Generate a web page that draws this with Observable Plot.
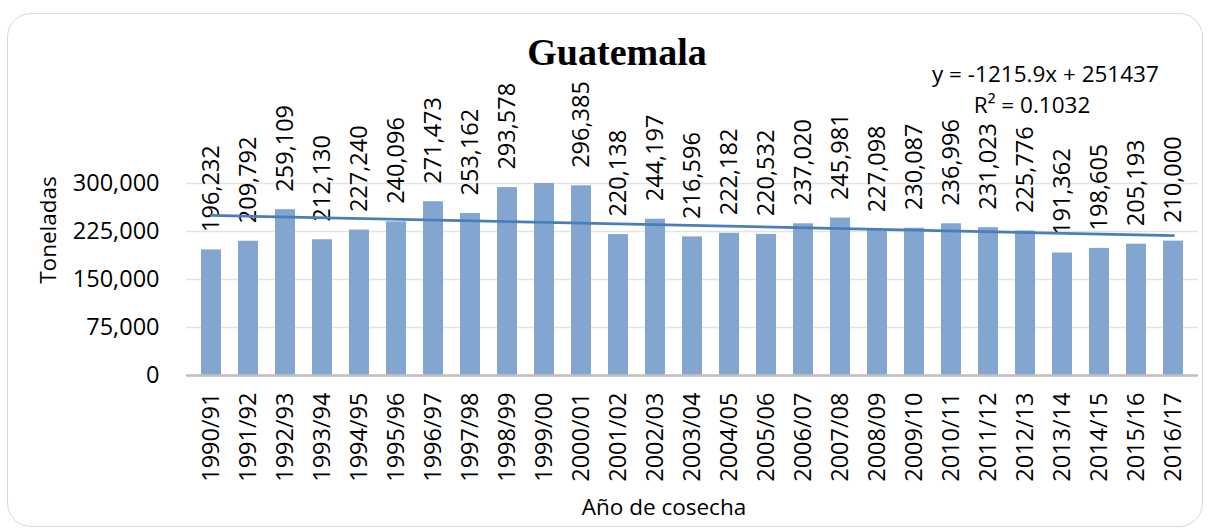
<!DOCTYPE html>
<html>
<head>
<meta charset="utf-8">
<script src="https://cdn.jsdelivr.net/npm/d3@7"></script>
<script src="https://cdn.jsdelivr.net/npm/@observablehq/plot@0.6"></script>
<style>
  html, body { margin: 0; padding: 0; background: #fff; }
  #wrap { position: relative; width: 1210px; height: 531px; overflow: hidden; font-family: "Open Sans", sans-serif; }
  #frame { position: absolute; left: 7px; top: 13px; width: 1196px; height: 514px; border: 1.5px solid #d9d9d9; border-radius: 24px; box-sizing: border-box; }
  #chart { position: absolute; left: 0; top: 0; }
  .t { position: absolute; white-space: nowrap; color: #000; }
  #title { left: 0; width: 1234px; top: 33px; text-align: center; font-family: "Liberation Serif", serif; font-weight: bold; font-size: 38px; line-height: 38px; }
  #eq { left: 932px; width: 200px; top: 58px; text-align: center; font-size: 22.5px; line-height: 31px; }
  #ylab { left: 48px; top: 230px; font-size: 22.5px; line-height: 22px; transform: translate(-50%, -50%) rotate(-90deg); }
  #xlab { left: 664px; top: 507px; font-size: 22.5px; line-height: 22px; transform: translate(-50%, -50%); }
</style>
</head>
<body>
<div id="wrap">
  <div id="frame"></div>
  <div id="chart"></div>
  <div class="t" id="title">Guatemala</div>
  <div class="t" id="eq">y = -1215.9x + 251437<br>R² = 0.1032</div>
  <div class="t" id="ylab">Toneladas</div>
  <div class="t" id="xlab">Año de cosecha</div>
</div>
<script>
const seasons = ["1990/91","1991/92","1992/93","1993/94","1994/95","1995/96","1996/97","1997/98","1998/99","1999/00","2000/01","2001/02","2002/03","2003/04","2004/05","2005/06","2006/07","2007/08","2008/09","2009/10","2010/11","2011/12","2012/13","2013/14","2014/15","2015/16","2016/17"];
const toneladas = [196232,209792,259109,212130,227240,240096,271473,253162,293578,307203,296385,220138,244197,216596,222182,220532,237020,245981,227098,230087,236996,231023,225776,191362,198605,205193,210000];
const yTicks = [0,75000,150000,225000,300000];
const yMax = 300000;
const trendSlope = -1215.9;
const trendIntercept = 251437;

const fmt = d3.format(",");
const data = seasons.map((s, i) => ({season: s, value: toneladas[i], idx: i + 1}));
const labeled = data.filter(d => d.value <= yMax);
const trendEnds = [data[0], data[data.length - 1]].map(d => ({season: d.season, value: trendSlope * d.idx + trendIntercept}));

const chart = Plot.plot({
  width: 1210,
  height: 531,
  marginLeft: 186,
  marginRight: 12,
  marginTop: 183,
  marginBottom: 156,
  style: {fontFamily: "'Open Sans', sans-serif", fontSize: "23.5px", color: "#000", background: "transparent", overflow: "visible"},
  x: {type: "band", domain: seasons, paddingInner: 0.45, paddingOuter: 0.225, label: null},
  y: {domain: [0, yMax], label: null},
  marks: [
    Plot.gridY(yTicks, {stroke: "#e3e3e3", strokeOpacity: 1, strokeWidth: 1.3}),
    Plot.barY(data, {x: "season", y: "value", fill: "#82a6d0", clip: true}),
    Plot.ruleY([0], {stroke: "#c0c0c0", strokeWidth: 2.5}),
    Plot.text(labeled, {x: "season", y: "value", text: d => fmt(d.value), rotate: -90, textAnchor: "start", lineAnchor: "middle", dy: -18, fill: "#000"}),
    Plot.line(trendEnds, {x: "season", y: "value", stroke: "#4a7ebb", strokeWidth: 2.75}),
    Plot.axisY(yTicks, {tickFormat: d => fmt(d), tickSize: 0, tickPadding: 27, label: null, fill: "#000"}),
    Plot.axisX({tickRotate: -90, tickSize: 0, tickPadding: 17, label: null, fill: "#000"})
  ]
});
document.getElementById("chart").appendChild(chart);
</script>
</body>
</html>
